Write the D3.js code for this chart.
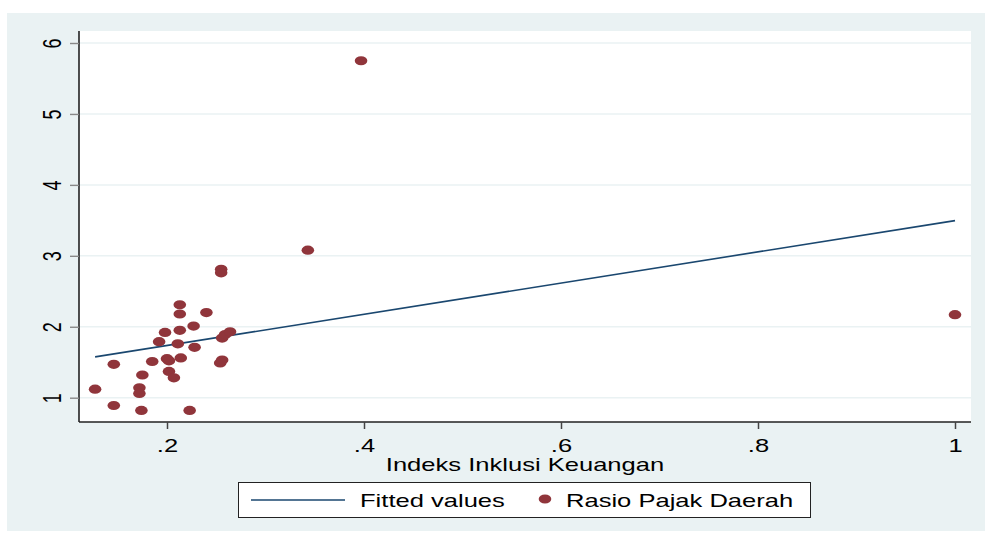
<!DOCTYPE html>
<html>
<head>
<meta charset="utf-8">
<script src="https://cdn.jsdelivr.net/npm/d3@7"></script>
<style>
	html, body { margin: 0; padding: 0; background: #ffffff; }
	svg { display: block; }
	text { font-family: "Liberation Sans", Arial, sans-serif; fill: #000; }
</style>
</head>
<body>
<div id="chart"></div>
<script>
(function() {
	"use strict";

	// Indeks Inklusi Keuangan (x) and Rasio Pajak Daerah (y)
	var inklusi = [0.127, 0.146, 0.146, 0.172, 0.172, 0.174, 0.175, 0.185, 0.192, 0.198, 0.200,
		0.202, 0.202, 0.207, 0.211, 0.213, 0.213, 0.213, 0.214, 0.223, 0.227, 0.228, 0.240,
		0.254, 0.256, 0.256, 0.259, 0.264, 0.255, 0.255, 0.343, 0.397, 1.000];
	var rasioPajak = [1.12, 1.47, 0.89, 1.14, 1.06, 0.82, 1.32, 1.51, 1.79, 1.92, 1.55,
		1.52, 1.37, 1.28, 1.76, 1.95, 2.18, 2.31, 1.56, 0.82, 2.01, 1.71, 2.20,
		1.49, 1.53, 1.84, 1.89, 1.93, 2.81, 2.76, 3.08, 5.75, 2.17];

	// fitted values line, end points
	var fittedX = [0.127, 1.0];
	var fittedY = [1.575, 3.496];

	var xTicks = [0.2, 0.4, 0.6, 0.8, 1];
	var xTickLabels = ['.2', '.4', '.6', '.8', '1'];
	var yTicks = [1, 2, 3, 4, 5, 6];

	var xTitle = 'Indeks Inklusi Keuangan';
	var legendLabels = ['Fitted values', 'Rasio Pajak Daerah'];

	var width = 985, height = 533;
	var stretch = 1.42;   // the picture is widened horizontally
	var plot = { left: 79, right: 971, top: 31, bottom: 422 };
	var lineColor = '#1a476f', markerColor = '#90353b', bgColor = '#eaf2f3';

	var x = d3.scaleLinear().domain([0.2, 1]).range([167, 955]);
	var y = d3.scaleLinear().domain([1, 6]).range([397.7, 43]);

	var svg = d3.select('#chart')
		.append('svg')
		.attr('width', width)
		.attr('height', height);

	svg.append('rect')
		.attr('x', 7).attr('y', 13)
		.attr('width', width - 7).attr('height', 518)
		.attr('fill', bgColor);

	svg.append('rect')
		.attr('x', plot.left).attr('y', plot.top)
		.attr('width', plot.right - plot.left).attr('height', plot.bottom - plot.top)
		.attr('fill', '#ffffff');

	// grid lines
	svg.append('g').selectAll('line')
		.data(yTicks)
		.enter()
		.append('line')
		.attr('x1', plot.left).attr('x2', plot.right)
		.attr('y1', function (d) { return y(d); })
		.attr('y2', function (d) { return y(d); })
		.attr('stroke', bgColor)
		.attr('stroke-width', 1.5);

	// y axis
	var yAxis = svg.append('g')
		.attr('transform', 'translate(' + plot.left + ',0)')
		.call(d3.axisLeft(y).tickValues(yTicks).tickSize(9).tickFormat(''));
	yAxis.select('.domain').attr('d', 'M0,' + plot.top + 'V' + plot.bottom)
		.attr('stroke', '#222').attr('stroke-width', 1.6);
	yAxis.selectAll('.tick line').attr('stroke', '#888').attr('stroke-width', 1.4);
	yAxis.selectAll('.tick')
		.append('text')
		.attr('transform', 'translate(-18,0) scale(' + stretch + ',1) rotate(-90)')
		.attr('text-anchor', 'middle')
		.attr('font-size', 18)
		.text(function (d) { return d; });

	// x axis
	var xAxis = svg.append('g')
		.attr('transform', 'translate(0,' + plot.bottom + ')')
		.call(d3.axisBottom(x).tickValues(xTicks).tickSize(7).tickFormat(''));
	xAxis.select('.domain').attr('d', 'M' + plot.left + ',0H' + plot.right)
		.attr('stroke', '#222').attr('stroke-width', 1.3);
	xAxis.selectAll('.tick line').attr('stroke', '#444').attr('stroke-width', 1.5);
	xAxis.selectAll('.tick')
		.append('text')
		.attr('transform', 'translate(0,30) scale(' + stretch + ',1)')
		.attr('text-anchor', 'middle')
		.attr('font-size', 18)
		.text(function (d, i) { return xTickLabels[i]; });

	svg.append('text')
		.attr('transform', 'translate(' + ((plot.left + plot.right) / 2 + 0) + ',471) scale(' + stretch + ',1)')
		.attr('text-anchor', 'middle')
		.attr('font-size', 18)
		.text(xTitle);

	// fitted line
	svg.append('line')
		.attr('x1', x(fittedX[0])).attr('y1', y(fittedY[0]))
		.attr('x2', x(fittedX[1])).attr('y2', y(fittedY[1]))
		.attr('stroke', lineColor)
		.attr('stroke-width', 1.6);

	// points
	svg.append('g').selectAll('ellipse')
		.data(d3.range(inklusi.length))
		.enter()
		.append('ellipse')
		.attr('cx', function (i) { return x(inklusi[i]); })
		.attr('cy', function (i) { return y(rasioPajak[i]); })
		.attr('rx', 6.3)
		.attr('ry', 4.6)
		.attr('fill', markerColor);

	// legend
	var legend = svg.append('g');
	legend.append('rect')
		.attr('x', 238.5).attr('y', 482.5)
		.attr('width', 572).attr('height', 35)
		.attr('fill', '#ffffff')
		.attr('stroke', '#222')
		.attr('stroke-width', 1);
	legend.append('line')
		.attr('x1', 251).attr('x2', 345)
		.attr('y1', 500).attr('y2', 500)
		.attr('stroke', lineColor)
		.attr('stroke-width', 1.6);
	legend.append('text')
		.attr('transform', 'translate(360,507) scale(' + stretch + ',1)')
		.attr('font-size', 18)
		.text(legendLabels[0]);
	legend.append('ellipse')
		.attr('cx', 545).attr('cy', 499)
		.attr('rx', 6.3).attr('ry', 4.6)
		.attr('fill', markerColor);
	legend.append('text')
		.attr('transform', 'translate(566,507) scale(' + stretch + ',1)')
		.attr('font-size', 18)
		.text(legendLabels[1]);
}());
</script>
</body>
</html>
